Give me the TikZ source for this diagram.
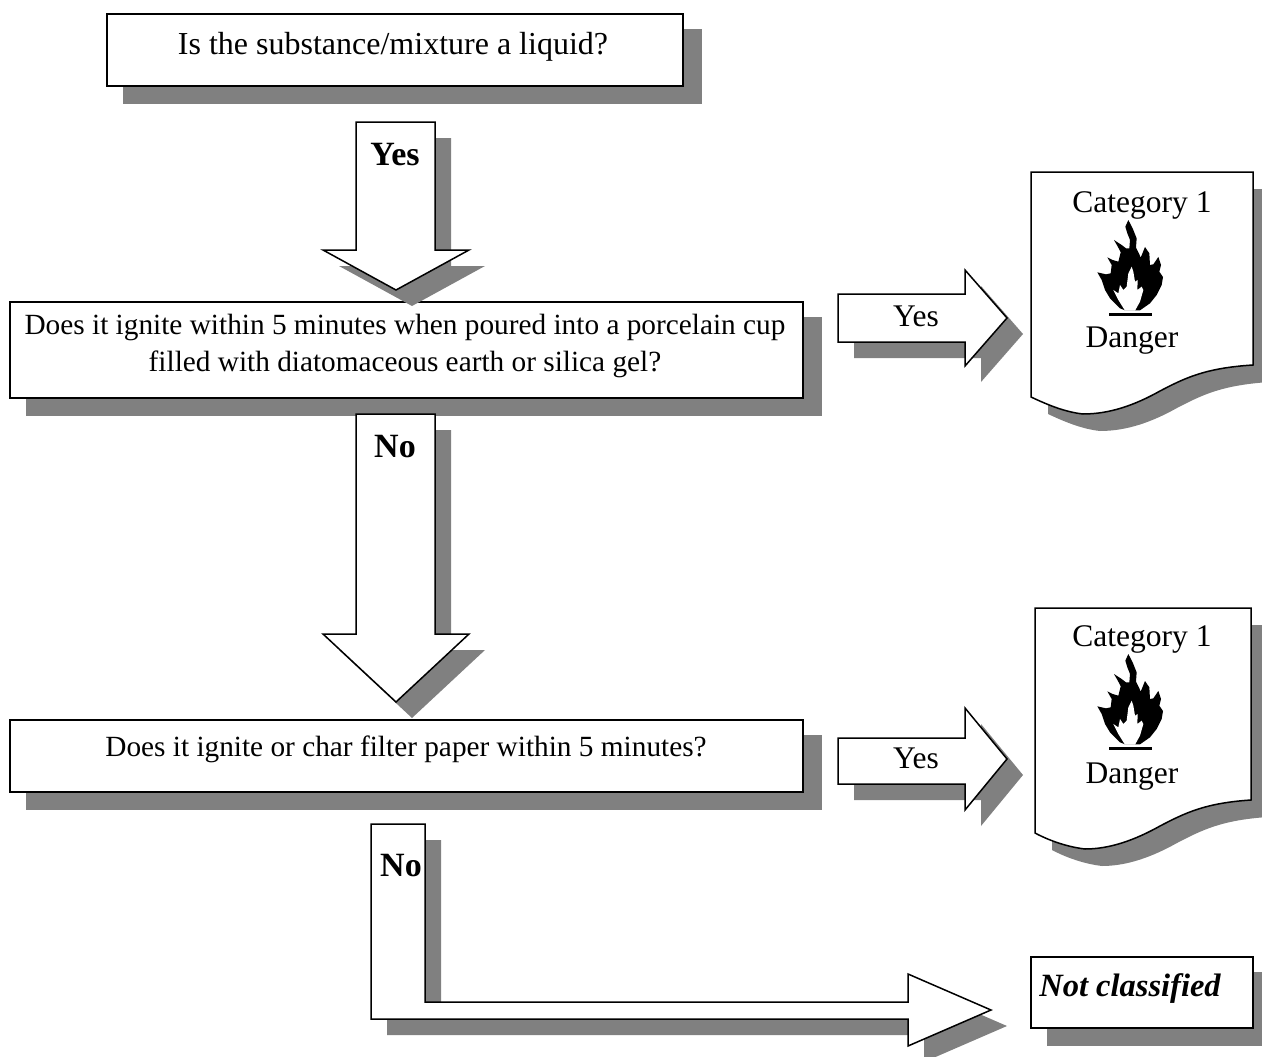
\documentclass[tikz,border=0pt]{standalone}
\usepackage{fontspec}
\setmainfont{Liberation Serif}
\definecolor{shadowc}{gray}{0.5}
\tikzset{
  x=1pt,y=-1pt,
  shapeline/.style={draw=black,line width=1.5pt,fill=white,line join=miter},
  shadowfill/.style={fill=shadowc,draw=none},
  boxshadow/.style={fill=shadowc,draw=shadowc,line width=3pt},
  txt/.style={font=\fontsize{31.5}{37}\selectfont,align=center,inner sep=0pt,text=black},
  smalltxt/.style={txt,font=\fontsize{29.3}{37}\selectfont},
  boldtxt/.style={txt,font=\fontsize{34}{38}\selectfont\bfseries},
}
\newcommand{\shapewithshadow}[3]{%
  \fill[shadowfill,shift={(#1,#2)}] #3;
  \draw[shapeline] #3;}
\newcommand{\boxwithshadow}[1]{%
  \draw[boxshadow,shift={(17.5,16.5)}] #1;
  \draw[shapeline] #1;}
\newcommand{\flamesign}[1]{%
  \begin{scope}[shift={(1090,215+#1)},x=0.3333pt,y=-0.3333pt]
    \fill[black] (115,15) -- (106,35) -- (112,55) -- (120,75) -- (118,100) -- (108,100) -- (95,90) -- (72,75) -- (85,98) -- (92,112) -- (85,140) -- (68,135) -- (52,127) -- (65,150) -- (62,175) -- (48,178) -- (22,172) -- (35,195) -- (45,225) -- (60,250) -- (90,280) -- (105,286) -- (150,286) -- (180,265) -- (200,240) -- (215,210) -- (219,186) -- (208,170) -- (213,150) -- (205,126) -- (190,148) -- (180,150) -- (178,115) -- (165,96) -- (152,128) -- (148,118) -- (138,98) -- (140,70) -- (128,40) -- cycle;
    \fill[white] (105,287) -- (85,255) -- (70,225) -- (85,235) -- (90,210) -- (100,225) -- (110,215) -- (115,175) -- (125,155) -- (130,170) -- (135,200) -- (143,195) -- (142,225) -- (155,215) -- (160,225) -- (150,260) -- (135,287) -- cycle;
    \fill[black] (58,294) rectangle (187,302);
  \end{scope}}
\begin{document}
\begin{tikzpicture}
\useasboundingbox (0,0) rectangle (1262,1057);
\clip (0,0) rectangle (1262,1057);

% boxes
\boxwithshadow{(107,14) rectangle (683,86)}
\node[txt,font=\fontsize{32}{37}\selectfont] (q1) at (393,47) {Is the substance/mixture a liquid?};
\boxwithshadow{(10,302) rectangle (803,398)}
\node[smalltxt] (q2) at (405,346) {Does it ignite within 5 minutes when poured into a porcelain cup\\filled with diatomaceous earth or silica gel?};
\boxwithshadow{(10,720) rectangle (803,792)}
\node[smalltxt] (q3) at (406,749) {Does it ignite or char filter paper within 5 minutes?};

% down block arrows
\shapewithshadow{16}{16}{(356,122) -- (435,122) -- (435,250) -- (469,250) -- (396,290) -- (323,250) -- (356,250) -- cycle}
\node[boldtxt] (yes1) at (395,155) {Yes};
\shapewithshadow{16}{16}{(356,414) -- (435,414) -- (435,634) -- (469,634) -- (396,702) -- (323,634) -- (356,634) -- cycle}
\node[boldtxt] (no1) at (395,447) {No};

% right block arrows
\shapewithshadow{16}{16}{(838,294) -- (965,294) -- (965,270) -- (1007,318) -- (965,366) -- (965,342) -- (838,342) -- cycle}
\node[txt] (yes2) at (916,316) {Yes};
\shapewithshadow{16}{16}{(838,738) -- (965,738) -- (965,708) -- (1007,759) -- (965,810) -- (965,784) -- (838,784) -- cycle}
\node[txt] (yes3) at (916,758) {Yes};

% L-shaped arrow
\shapewithshadow{16}{16}{(371,824) -- (425,824) -- (425,1002) -- (908,1002) -- (908,974) -- (991,1010) -- (908,1046) -- (908,1019) -- (371,1019) -- cycle}
\node[boldtxt] (no2) at (401,866) {No};

% documents
\shapewithshadow{17}{17}{(1031,172) -- (1253,172) -- (1253,365) .. controls (1205,368) and (1185,378) .. (1160,391) .. controls (1135,405) and (1110,414) .. (1083,414) .. controls (1065,412) and (1048,405) .. (1031,397) -- cycle}
\node[txt] (cat1) at (1142,205) {Category 1};
\flamesign{0}
\node[txt] (dan1) at (1132,341) {Danger};

\shapewithshadow{17}{17}{(1035,608) -- (1251,608) -- (1251,800) .. controls (1205,803) and (1185,813) .. (1160,826) .. controls (1135,840) and (1110,849) .. (1085,849) .. controls (1068,847) and (1050,841) .. (1035,833) -- cycle}
\node[txt] (cat2) at (1142,639) {Category 1};
\flamesign{434}
\node[txt] (dan2) at (1132,777) {Danger};

% not classified
\boxwithshadow{(1031,957) rectangle (1253,1028)}
\node[txt,font=\fontsize{32.5}{37}\selectfont\bfseries\itshape] (nc) at (1130,989) {Not classified};
\end{tikzpicture}
\end{document}
